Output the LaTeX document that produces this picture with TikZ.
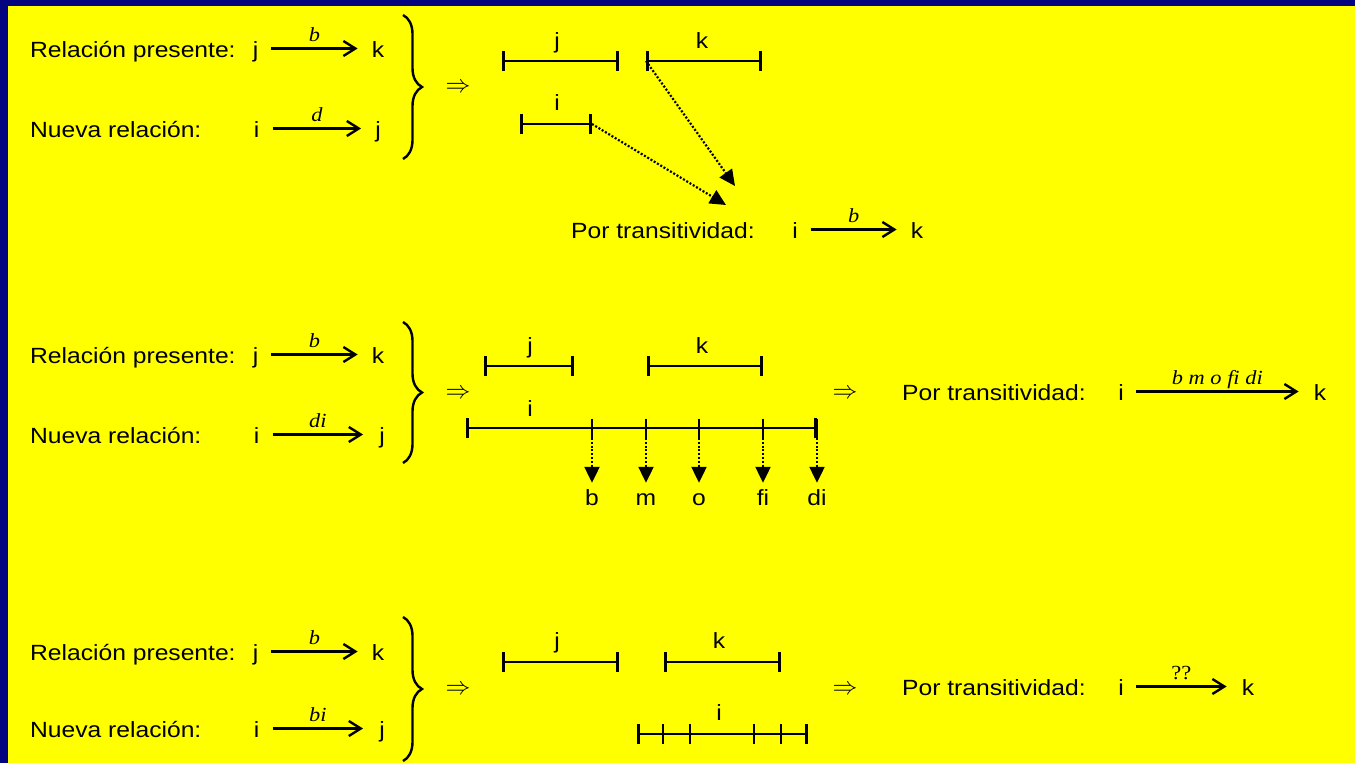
\documentclass[tikz,border=0pt]{standalone}
\usepackage{fontspec}
\setmainfont{Liberation Sans}[FakeStretch=1.12]
\newfontfamily\relfont{Liberation Serif}[FakeStretch=1.12]
\usetikzlibrary{arrows.meta,decorations.pathreplacing,calc}
\definecolor{slidenavy}{RGB}{4,4,128}
\definecolor{slideyellow}{RGB}{255,255,0}

\tikzset{
  txt/.style={font=\fontsize{22}{26}\selectfont, inner sep=0pt, anchor=base west},
  letter/.style={font=\fontsize{22}{26}\selectfont, inner sep=0pt,
    text height=17pt, text depth=0pt, anchor=base},
  rel/.style={line width=2.2pt,
    -{Straight Barb[length=12pt,width=15pt,line width=2.4pt]}},
  lab/.style={font=\relfont\itshape\fontsize{20}{22}\selectfont,
    inner sep=0pt, text depth=0pt, above=6pt},
  labup/.style={lab, font=\relfont\upshape\fontsize{20}{22}\selectfont},
  ivl/.style={line width=2.6pt,
    {Bar[width=20pt,line width=2.6pt]}-{Bar[width=20pt,line width=2.6pt]}},
  tickmark/.style={line width=2.6pt},
  dotarrow/.style={line width=2.2pt, dash pattern=on 2pt off 1.8pt,
    -{Triangle[length=16pt,width=15pt]}},
  brc/.style={decorate, decoration={brace, amplitude=19pt}, line width=2.4pt},
  imp/.style={font=\fontsize{28}{28}\selectfont, inner sep=0pt}
}

\begin{document}
\begin{tikzpicture}[x=1pt, y=-1pt]
  \useasboundingbox (0,0) rectangle (1355,763);
  \fill[slidenavy] (0,0) rectangle (1355,763);
  \fill[slideyellow] (8,6) rectangle (1355,763);

  % ---------------- first case: b and d ----------------
  \node[txt] (rpA) at (30,57) {Relación presente:};
  \node[letter] (jA) at (255.5,57) {j};
  \node[letter] (kA) at (378,57) {k};
  \draw[rel] ([xshift=13pt]jA.east) -- node[lab] {b} ([xshift=-14pt]kA.west);

  \node[txt] (nrA) at (30,137) {Nueva relación:};
  \node[letter] (iA) at (256.7,137) {i};
  \node[letter] (jA2) at (378,137) {j};
  \draw[rel] ([xshift=13pt]iA.east) -- node[lab] {d} ([xshift=-14pt]jA2.west);

  \draw[brc] (403,15) -- (403,159);
  \node[imp] (impA) at (458,88) {$\Rightarrow$};

  \coordinate (jAa) at (502,61);  \coordinate (jAb) at (619,61);
  \coordinate (kAa) at (646,61);  \coordinate (kAb) at (762,61);
  \coordinate (iAa) at (520,124); \coordinate (iAb) at (592,124);
  \draw[ivl] (jAa) -- (jAb);
  \draw[ivl] (kAa) -- (kAb);
  \draw[ivl] (iAa) -- (iAb);
  \node[letter] (ljA) at (557,48) {j};
  \node[letter] (lkA) at (702,48) {k};
  \node[letter] (liA) at (557,110) {i};

  \coordinate (tipA1) at (735,186);
  \coordinate (tipA2) at (726,205);
  \draw[dotarrow] (kAa) -- (tipA1);
  \draw[dotarrow] (iAb) -- (tipA2);

  \node[txt] (ptA) at (571,238) {Por transitividad:};
  \node[letter] (iR1) at (795,238) {i};
  \node[letter] (kR1) at (917,238) {k};
  \draw[rel] ([xshift=13pt]iR1.east) -- node[lab] {b} ([xshift=-14pt]kR1.west);

  % ---------------- second case: b and di ----------------
  \node[txt] (rpB) at (30,363) {Relación presente:};
  \node[letter] (jB) at (255.5,363) {j};
  \node[letter] (kB) at (378,363) {k};
  \draw[rel] ([xshift=13pt]jB.east) -- node[lab] {b} ([xshift=-14pt]kB.west);

  \node[txt] (nrB) at (30,443) {Nueva relación:};
  \node[letter] (iB) at (256.7,443) {i};
  \node[letter] (jB2) at (382,443) {j};
  \draw[rel] ([xshift=13pt]iB.east) -- node[lab] {di} ([xshift=-16pt]jB2.west);

  \draw[brc] (403,322) -- (403,463);
  \node[imp] (impB) at (458,394) {$\Rightarrow$};

  \coordinate (jBa) at (484,366); \coordinate (jBb) at (574,366);
  \coordinate (kBa) at (647,366); \coordinate (kBb) at (763,366);
  \coordinate (iBa) at (466,428); \coordinate (iBb) at (817,428);
  \draw[ivl] (jBa) -- (jBb);
  \draw[ivl] (kBa) -- (kBb);
  \draw[ivl] (iBa) -- (iBb);
  \node[letter] (ljB) at (530,353) {j};
  \node[letter] (lkB) at (702,353) {k};
  \node[letter] (liB) at (530,416) {i};

  \foreach \x/\r in {592/b, 646/m, 699/o, 763/fi, 817/di} {
    \draw[tickmark] (\x,418.5) -- (\x,437.5);
    \coordinate (tk\r) at (\x,438);
    \node[letter] (r\r) at (\x,505) {\r};
    \draw[dotarrow, shorten >=5pt] (tk\r) -- (r\r.north);
  }

  \node[imp] (impB2) at (845,394) {$\Rightarrow$};
  \node[txt] (ptB) at (902,400) {Por transitividad:};
  \node[letter] (iR2) at (1121,400) {i};
  \node[letter] (kR2) at (1320,400) {k};
  \draw[rel] ([xshift=12pt]iR2.east) -- node[lab] {b m o fi di} ([xshift=-15pt]kR2.west);

  % ---------------- third case: b and bi ----------------
  \node[txt] (rpC) at (30,660) {Relación presente:};
  \node[letter] (jC) at (255.5,660) {j};
  \node[letter] (kC) at (378,660) {k};
  \draw[rel] ([xshift=13pt]jC.east) -- node[lab] {b} ([xshift=-14pt]kC.west);

  \node[txt] (nrC) at (30,737) {Nueva relación:};
  \node[letter] (iC) at (256.7,737) {i};
  \node[letter] (jC2) at (382,737) {j};
  \draw[rel] ([xshift=13pt]iC.east) -- node[lab] {bi} ([xshift=-16pt]jC2.west);

  \draw[brc] (403,617) -- (403,761);
  \node[imp] (impC) at (458,690) {$\Rightarrow$};

  \coordinate (jCa) at (502,662); \coordinate (jCb) at (619,662);
  \coordinate (kCa) at (664,662); \coordinate (kCb) at (781,662);
  \coordinate (iCa) at (637,734); \coordinate (iCb) at (808,734);
  \draw[ivl] (jCa) -- (jCb);
  \draw[ivl] (kCa) -- (kCb);
  \draw[ivl] (iCa) -- (iCb);
  \foreach \x in {663, 690, 754, 781}
    \draw[tickmark] (\x,724) -- (\x,744);
  \node[letter] (ljC) at (557,648) {j};
  \node[letter] (lkC) at (719,648) {k};
  \node[letter] (liC) at (719,720) {i};

  \node[imp] (impC2) at (845,690) {$\Rightarrow$};
  \node[txt] (ptC) at (902,695) {Por transitividad:};
  \node[letter] (iR3) at (1121,695) {i};
  \node[letter] (kR3) at (1248,695) {k};
  \draw[rel] ([xshift=12pt]iR3.east) -- node[labup] {??} ([xshift=-15pt]kR3.west);
\end{tikzpicture}
\end{document}
